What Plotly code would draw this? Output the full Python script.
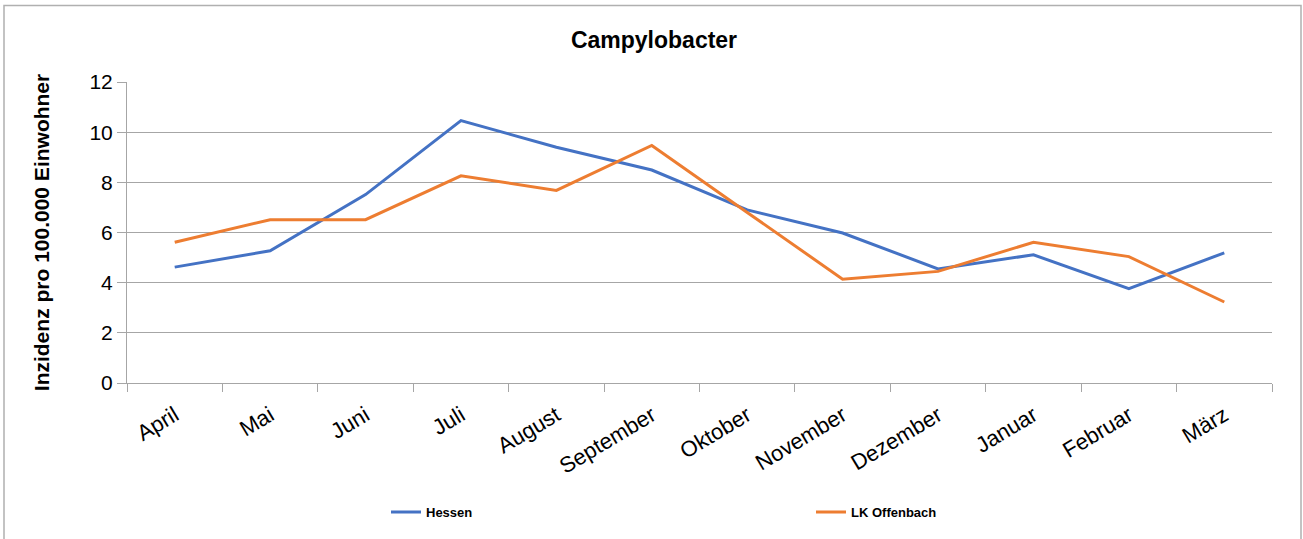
import plotly.graph_objects as go

months = ["April", "Mai", "Juni", "Juli", "August", "September", "Oktober",
          "November", "Dezember", "Januar", "Februar", "März"]
hessen = [4.62, 5.27, 7.51, 10.46, 9.40, 8.49, 6.90, 5.98, 4.55, 5.11, 3.76, 5.19]
offenbach = [5.61, 6.51, 6.51, 8.26, 7.68, 9.47, 6.80, 4.14, 4.45, 5.61, 5.04, 3.23]
y_ticks = [0, 2, 4, 6, 8, 10, 12]

W, H = 1303, 539
L, T = 127, 82
R = W - 1272
B = H - 385
pw, ph = W - L - R, H - T - B

fig = go.Figure()
fig.add_trace(go.Scatter(x=months, y=hessen, mode="lines", name="<b>Hessen</b>",
                         line=dict(color="#4472C4", width=3)))
fig.add_trace(go.Scatter(x=months, y=offenbach, mode="lines", name="<b>LK Offenbach</b>",
                         line=dict(color="#ED7D31", width=3)))

grid = "#A6A6A6"
fig.update_layout(
    width=W, height=H,
    margin=dict(l=L, r=R, t=T, b=B),
    paper_bgcolor="white", plot_bgcolor="white",
    title=dict(text="<b>Campylobacter</b>", x=654 / W, xanchor="center",
               y=1 - 40 / H, yanchor="middle",
               font=dict(family="Liberation Sans, Arial", size=23, color="black")),
    xaxis=dict(type="category", tickangle=-31, showgrid=False,
               showline=True, linecolor=grid, linewidth=1,
               ticks="outside", tickson="boundaries", ticklen=8, tickcolor=grid,
               ticklabelstandoff=10,
               tickfont=dict(family="Liberation Sans, Arial", size=22, color="black"),
               range=[-0.5, 11.5]),
    yaxis=dict(range=[0, 12], tickvals=y_ticks, showgrid=True, gridcolor=grid,
               gridwidth=1, showline=True, linecolor=grid, linewidth=1,
               ticks="outside", ticklen=9, tickcolor=grid, zeroline=False,
               tickfont=dict(family="Liberation Sans, Arial", size=21, color="black"),
               title=dict(text="<b>Inzidenz pro 100.000 Einwohner</b>", standoff=34,
                          font=dict(family="Liberation Sans, Arial", size=21, color="black"))),
    legend=dict(orientation="h", x=(392 - 8 - L + 2) / pw, xanchor="left",
                y=-(515 - (T + ph)) / ph, yanchor="middle",
                entrywidth=380, entrywidthmode="pixels",
                font=dict(family="Liberation Sans, Arial", size=13, color="black"),
                bgcolor="rgba(0,0,0,0)"),
    showlegend=True,
)
# outer chart border
fig.add_shape(type="rect", xref="paper", yref="paper",
              x0=(4 - L) / pw, x1=(1301 - L) / pw,
              y0=(T + ph - 545) / ph, y1=(T + ph - 5) / ph,
              line=dict(color="#B0B0B0", width=1.5), layer="below")

fig.write_html("out.html", config={"displayModeBar": False},
               post_script="document.body.style.margin='0';document.body.style.overflow='hidden';")
